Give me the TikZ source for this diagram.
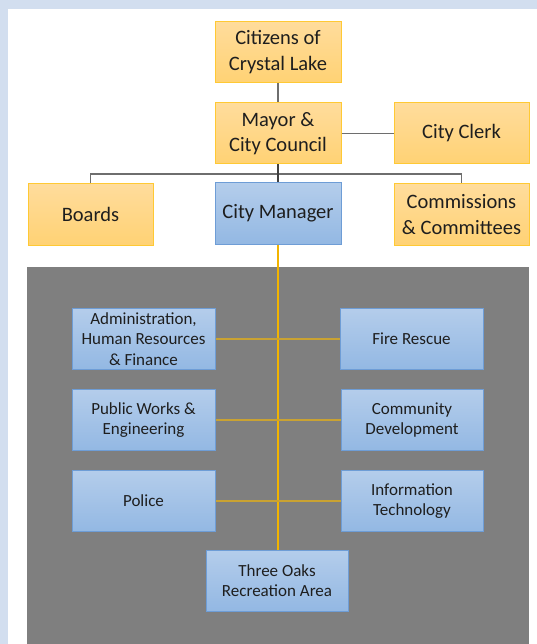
\documentclass[tikz,border=0pt]{standalone}
\usepackage{fontspec}
\setmainfont{Carlito}
\definecolor{pageblue}{HTML}{D2DEEF}
\definecolor{panel}{HTML}{7F7F7F}
\definecolor{otop}{HTML}{FFDC9C}
\definecolor{obot}{HTML}{FFD274}
\definecolor{oline}{HTML}{FFC934}
\definecolor{btop}{HTML}{B4CDEB}
\definecolor{bbot}{HTML}{93B8E3}
\definecolor{bline}{HTML}{6E9DD6}
\definecolor{txt}{HTML}{1E1E1E}
\definecolor{gold}{HTML}{F2B400}
\definecolor{goldline}{HTML}{C9A232}
\definecolor{conn}{HTML}{6E6E6E}
\begin{document}
\begin{tikzpicture}[x=1pt,y=-1pt,
  obox/.style={draw=oline, line width=1pt, top color=otop, bottom color=obot,
    minimum width=#1, minimum height=61pt, inner sep=0pt, align=center,
    text=txt, font=\fontsize{20.5}{25.5}\selectfont},
  obox/.default=126pt,
  bbox/.style={draw=bline, line width=1pt, top color=btop, bottom color=bbot,
    minimum width=#1, minimum height=61pt, inner sep=0pt, align=center,
    text=txt, font=\fontsize{17}{20.5}\selectfont},
  bbox/.default=143pt,
  mbox/.style={draw=bline, line width=1pt, top color=btop, bottom color=bbot,
    minimum width=126pt, minimum height=61pt, inner sep=0pt, align=center,
    text=txt, font=\fontsize{20.5}{25.5}\selectfont},
  gconn/.style={draw=conn, line width=1.6pt},
  stem/.style={draw=black!75, line width=2pt},
  vgold/.style={draw=gold, line width=1.6pt},
  hgold/.style={draw=goldline, line width=1.3pt}
]
\useasboundingbox (0,0) rectangle (537,644);
\fill[pageblue] (0,0) rectangle (537,644);
\fill[white] (8,9) rectangle (537,644);
\fill[panel] (27,267) rectangle (529,644);

\node[obox] (cit) at (278,52) {Citizens of\\Crystal Lake};
\node[obox] (may) at (278,133.5) {Mayor \&\\City Council};
\node[obox=135pt] (clerk) at (461.5,133.5) {City Clerk};
\node[obox=125pt] (boards) at (90.5,214.5) {Boards};
\node[mbox] (mgr) at (278,213.5) {City Manager};
\node[obox=135pt] (comm) at (461.5,214.5) {Commissions\\\& Committees};

\node[bbox] (admin) at (143.5,339) {Administration,\\Human Resources\\\& Finance};
\node[bbox] (fire) at (411.5,339) {Fire Rescue};
\node[bbox] (pw) at (143.5,420) {Public Works \&\\Engineering};
\node[bbox=142pt] (cd) at (412,420) {Community\\Development};
\node[bbox] (pol) at (143.5,501) {Police};
\node[bbox=142pt] (it) at (412,501) {Information\\Technology};
\node[bbox=142pt] (oaks) at (277,580.5) {Three Oaks\\Recreation Area};

\coordinate (bus) at (278,174);
\draw[gconn] (cit.south) -- (may.north);
\draw[gconn] (may.east) -- (clerk.west);
\draw[gconn] (boards.north) |- (bus) -| (comm.north);
\draw[stem] (may.south) -- (mgr.north);
\draw[vgold] (mgr.south) -- (mgr.south |- oaks.north);
\draw[hgold] (admin.east) -- (fire.west);
\draw[hgold] (pw.east) -- (cd.west);
\draw[hgold] (pol.east) -- (it.west);
\end{tikzpicture}
\end{document}
